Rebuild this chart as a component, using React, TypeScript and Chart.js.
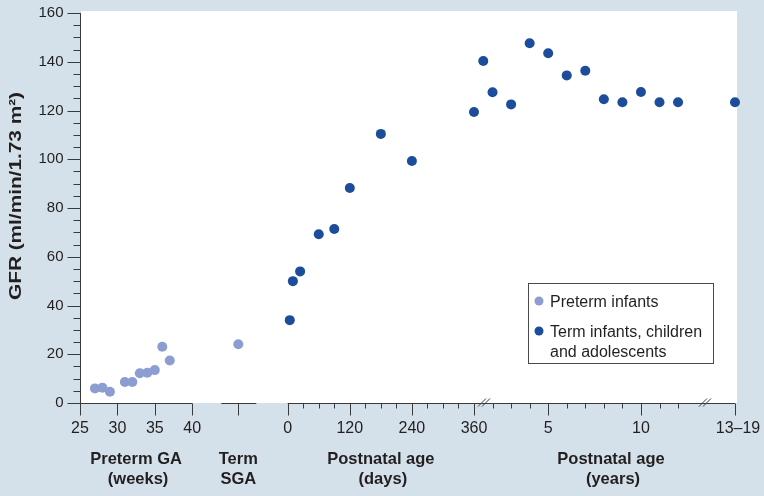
import React, { useEffect, useRef } from "react";
import { Chart, registerables } from "chart.js";

Chart.register(...registerables);

// ---------- data ----------
// Preterm infants by gestational age (weeks)
const pretermWeeks = [27, 28, 29, 31, 32, 33, 34, 35, 36, 37];
const pretermGfr = [6.0, 6.3, 4.6, 8.6, 8.6, 12.2, 12.4, 13.5, 23.1, 17.4];
// Term small-for-gestational-age
const sgaGfr = [24.1];
// Term infants, postnatal age (days)
const termDays = [4, 10, 24, 60, 90, 120, 180, 240];
const termDaysGfr = [34.0, 50.0, 54.0, 69.2, 71.4, 88.2, 110.4, 99.3];
// Children, postnatal age (years)
const termYears = [1, 1.5, 2, 3, 4, 5, 6, 7, 8, 9, 10, 11, 12];
const termYearsGfr = [119.4, 140.3, 127.5, 122.5, 147.6, 143.5, 134.4, 136.3, 124.6, 123.4, 127.6, 123.4, 123.4];
// Adolescents 13–19 years
const adolescentGfr = [123.4];

// tick labels
const gaTicks = [25, 30, 35, 40];
const dayMajorTicks = [0, 120, 240, 360];
const dayMinorTicks = [30, 60, 90, 150, 180, 210, 270, 300, 330];
const yearMajorTicks = [5, 10];
const yearMinorTicks = [2, 3, 4, 6, 7, 8, 9, 11, 12];
const adolescentLabel = "13–19";
const yMajorTicks = [0, 20, 40, 60, 80, 100, 120, 140, 160];
const yMinorTicks = [5, 10, 15, 25, 30, 35, 45, 50, 55, 65, 70, 75, 85, 90, 95, 105, 110, 115, 125, 130, 135, 145, 150, 155];

const seriesNames = ["Preterm infants", "Term infants, children", "and adolescents"];
const yTitle = "GFR (ml/min/1.73 m²)";

// ---------- styling ----------
const BG = "#d4e1ea";
const LIGHT = "#8c9ed1";
const DARK = "#1b4d9a";
const INK = "#231f20";
const AXIS = "#3a3a3a";
const FONT = "'Liberation Sans', Arial, Helvetica, sans-serif";

// ---------- segmented axis mapping (unified coordinate) ----------
const GA_UNIT = 7.48;
const SGA_U = 158.3;
const DAY_ORIGIN = 207.7;
const DAY_UNIT = 186.3 / 360;
const YEAR_ORIGIN = 394;
const YEAR_UNIT = 18.55;
const ADOL_U = 655;
const X_MAX = 655;
const gaU = (w: number) => (w - 25) * GA_UNIT;
const dayU = (d: number) => DAY_ORIGIN + d * DAY_UNIT;
const yearU = (y: number) => YEAR_ORIGIN + (y - 1) * YEAR_UNIT;
const BREAKS_U = [404, 625];
const YEARS_LABEL_U = 531;

const axesPlugin = {
  id: "customAxes",
  beforeDraw(chart: any) {
    const { ctx, chartArea } = chart;
    ctx.save();
    ctx.fillStyle = BG;
    ctx.fillRect(0, 0, chart.width, chart.height);
    ctx.fillStyle = "#ffffff";
    ctx.fillRect(chartArea.left + 1, chartArea.top - 2, chartArea.right - chartArea.left + 1, chartArea.bottom - chartArea.top + 2);
    ctx.restore();
  },
  beforeDatasetsDraw(chart: any) {
    const { ctx, chartArea } = chart;
    const xs = chart.scales.x;
    const ys = chart.scales.y;
    const px = (u: number) => xs.getPixelForValue(u);
    const py = (v: number) => ys.getPixelForValue(v);
    ctx.save();
    ctx.strokeStyle = AXIS;
    ctx.fillStyle = INK;
    ctx.lineWidth = 1;

    // y axis
    const ax = Math.round(chartArea.left) + 0.5;
    ctx.beginPath();
    ctx.moveTo(ax, py(160));
    ctx.lineTo(ax, py(0) + 0.5);
    ctx.stroke();
    ctx.font = `15px ${FONT}`;
    ctx.textAlign = "right";
    ctx.textBaseline = "middle";
    yMajorTicks.forEach((v) => {
      const y = Math.round(py(v)) + 0.5;
      ctx.beginPath();
      ctx.moveTo(ax - 13, y);
      ctx.lineTo(ax, y);
      ctx.stroke();
      ctx.fillText(String(v), ax - 17, py(v));
    });
    yMinorTicks.forEach((v) => {
      const y = Math.round(py(v)) + 0.5;
      ctx.beginPath();
      ctx.moveTo(ax - 7, y);
      ctx.lineTo(ax, y);
      ctx.stroke();
    });

    // y title (stretched along its length to match the reference)
    ctx.save();
    ctx.translate(17, 196);
    ctx.rotate(-Math.PI / 2);
    ctx.font = `bold 16px ${FONT}`;
    ctx.textAlign = "center";
    ctx.textBaseline = "middle";
    const tw = ctx.measureText(yTitle).width;
    ctx.scale(208 / tw, 1);
    ctx.fillText(yTitle, 0, 0);
    ctx.restore();

    // x axis segments
    const yb = Math.round(py(0)) + 0.5;
    const seg = (a: number, b: number) => {
      ctx.beginPath();
      ctx.moveTo(a, yb);
      ctx.lineTo(b, yb);
      ctx.stroke();
    };
    seg(px(gaU(25)), px(gaU(40)));
    seg(px(SGA_U) - 17, px(SGA_U) + 18);
    seg(px(dayU(0)), px(ADOL_U));

    const tick = (u: number, len: number) => {
      const x = Math.round(px(u)) + 0.5;
      ctx.beginPath();
      ctx.moveTo(x, yb);
      ctx.lineTo(x, yb + len);
      ctx.stroke();
    };
    const MAJ = 12;
    const MIN = 5;
    ctx.font = `16px ${FONT}`;
    ctx.textAlign = "center";
    ctx.textBaseline = "alphabetic";
    const LBL_Y = 433;
    gaTicks.forEach((w) => {
      tick(gaU(w), MAJ);
      ctx.fillText(String(w), px(gaU(w)), LBL_Y);
    });
    tick(SGA_U, MAJ);
    dayMajorTicks.forEach((d) => {
      tick(dayU(d), MAJ);
      ctx.fillText(String(d), px(dayU(d)), LBL_Y);
    });
    dayMinorTicks.forEach((d) => tick(dayU(d), MIN));
    yearMajorTicks.forEach((y) => {
      tick(yearU(y), MAJ);
      ctx.fillText(String(y), px(yearU(y)), LBL_Y);
    });
    yearMinorTicks.forEach((y) => tick(yearU(y), MIN));
    tick(ADOL_U, MAJ);
    ctx.fillText(adolescentLabel, px(ADOL_U) + 3, LBL_Y);

    // axis breaks
    BREAKS_U.forEach((u) => {
      const x = px(u);
      ctx.save();
      ctx.fillStyle = "#ffffff";
      ctx.fillRect(x - 2, yb - 3, 4, 2);
      ctx.restore();
      [-2, 2].forEach((off) => {
        ctx.beginPath();
        ctx.moveTo(x + off - 4, yb + 3);
        ctx.lineTo(x + off + 4, yb - 5);
        ctx.stroke();
      });
    });

    // group titles
    ctx.font = `bold 16.5px ${FONT}`;
    const groups: [number, string, string][] = [
      [px(gaU(32.5)), "Preterm GA", "(weeks)"],
      [px(SGA_U), "Term", "SGA"],
      [px(dayU(180)), "Postnatal age", "(days)"],
      [px(YEARS_LABEL_U), "Postnatal age", "(years)"],
    ];
    groups.forEach(([x, a, b]) => {
      ctx.fillText(a, x, 464);
      ctx.fillText(b, x + (b.startsWith("(") ? 2 : 0), 484);
    });
    ctx.restore();
  },
  afterDraw(chart: any) {
    const { ctx } = chart;
    ctx.save();
    ctx.strokeStyle = "#4a4a4a";
    ctx.lineWidth = 1;
    ctx.strokeRect(528.5, 283.5, 185, 80);
    const colors = chart.data.datasets.map((d: any) => d.backgroundColor);
    ctx.fillStyle = colors[0];
    ctx.beginPath();
    ctx.arc(539, 301, 4.5, 0, Math.PI * 2);
    ctx.fill();
    ctx.fillStyle = colors[1];
    ctx.beginPath();
    ctx.arc(539, 331, 4.5, 0, Math.PI * 2);
    ctx.fill();
    ctx.fillStyle = INK;
    ctx.font = `16px ${FONT}`;
    ctx.textAlign = "left";
    ctx.textBaseline = "alphabetic";
    ctx.fillText(seriesNames[0], 550, 306.5);
    ctx.fillText(seriesNames[1], 550, 336.5);
    ctx.fillText(seriesNames[2], 550, 356.5);
    ctx.restore();
  },
};

export default function App() {
  const ref = useRef<HTMLCanvasElement | null>(null);
  useEffect(() => {
    if (!ref.current) return;
    const preterm = [
      ...pretermWeeks.map((w, i) => ({ x: gaU(w), y: pretermGfr[i] })),
      ...sgaGfr.map((v) => ({ x: SGA_U, y: v })),
    ];
    const term = [
      ...termDays.map((d, i) => ({ x: dayU(d), y: termDaysGfr[i] })),
      ...termYears.map((y, i) => ({ x: yearU(y), y: termYearsGfr[i] })),
      ...adolescentGfr.map((v) => ({ x: ADOL_U, y: v })),
    ];
    const chart = new Chart(ref.current, {
      type: "scatter",
      data: {
        datasets: [
          { label: seriesNames[0], data: preterm, backgroundColor: LIGHT, borderWidth: 0, pointRadius: 5, clip: false } as any,
          { label: seriesNames[1] + " " + seriesNames[2], data: term, backgroundColor: DARK, borderWidth: 0, pointRadius: 5, clip: false } as any,
        ],
      },
      options: {
        animation: false,
        responsive: false,
        layout: { padding: { left: 80, right: 29, top: 13, bottom: 93 } },
        plugins: { legend: { display: false }, tooltip: { enabled: false } },
        scales: {
          x: { type: "linear", min: 0, max: X_MAX, display: false },
          y: { type: "linear", min: 0, max: 160, display: false },
        },
      },
      plugins: [axesPlugin],
    });
    return () => chart.destroy();
  }, []);
  return (
    <div style={{ position: "absolute", left: 0, top: 0, width: 764, height: 496, background: BG }}>
      <canvas ref={ref} width={764} height={496} style={{ display: "block" }} />
    </div>
  );
}
